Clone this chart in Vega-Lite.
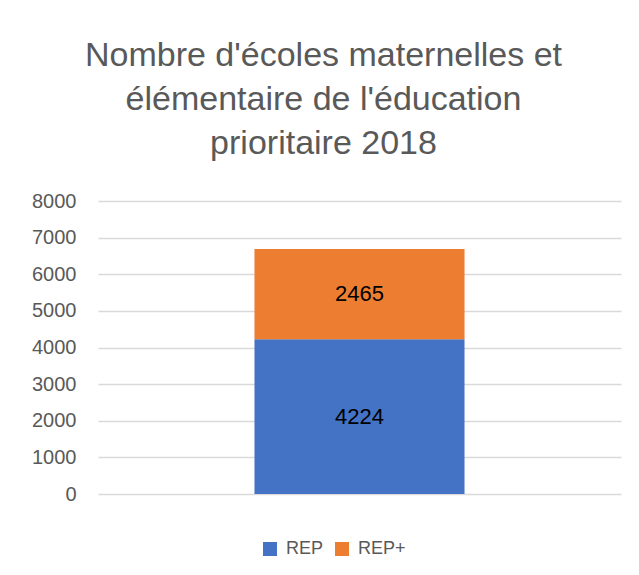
{
  "$schema": "https://vega.github.io/schema/vega-lite/v6.json",
  "autosize": {"type": "none"},
  "width": 523,
  "height": 293,
  "padding": {"left": 98, "top": 201, "right": 18, "bottom": 81},
  "background": "white",
  "config": {
    "view": {"stroke": null},
    "font": "Liberation Sans",
    "axisY": {"title": null, "domain": false, "ticks": false, "labelFontSize": 20, "labelColor": "#595959",
      "labelPadding": 22, "gridColor": "#d9d9d9", "gridWidth": 1.3, "labelOverlap": false, "labelFont": "Liberation Sans"}
  },
  "title": {
    "text": ["Nombre d'écoles maternelles et", "élémentaire de l'éducation", "prioritaire 2018"],
    "anchor": "middle",
    "frame": "group",
    "dx": -36,
    "fontSize": 34,
    "fontWeight": "normal",
    "color": "#595959",
    "lineHeight": 44,
    "offset": 30,
    "font": "Liberation Sans"
  },
  "data": {"values": [
    {"cat": "2018", "serie": "REP", "value": 4224},
    {"cat": "2018", "serie": "REP+", "value": 2465}
  ]},
  "transform": [
    {"stack": "value", "groupby": ["cat"], "sort": [{"field": "serie", "order": "ascending"}], "as": ["v0", "v1"]},
    {"calculate": "(datum.v0 + datum.v1) / 2", "as": "mid"}
  ],
  "encoding": {
    "x": {"field": "cat", "type": "nominal", "axis": null,
      "scale": {"paddingInner": 0, "paddingOuter": 0.745}},
    "y": {"field": "v0", "type": "quantitative",
      "scale": {"domain": [0, 8000]},
      "axis": {"values": [0,1000,2000,3000,4000,5000,6000,7000,8000], "format": "d"}}
  },
  "layer": [
    {
      "mark": {"type": "bar"},
      "encoding": {
        "y2": {"field": "v1"},
        "color": {"field": "serie", "type": "nominal",
          "scale": {"domain": ["REP", "REP+"], "range": ["#4472C4", "#ED7D31"]},
          "legend": {"title": null, "orient": "none", "direction": "horizontal", "legendX": 163, "legendY": 339,
            "symbolType": "square", "symbolSize": 196, "symbolStrokeWidth": 0, "labelFontSize": 18, "labelColor": "#595959",
            "columnPadding": 9, "labelOffset": 7}}
      }
    },
    {
      "mark": {"type": "text", "fontSize": 22, "color": "#000000", "baseline": "middle"},
      "encoding": {
        "y": {"field": "mid", "type": "quantitative"},
        "text": {"field": "value", "type": "quantitative", "format": "d"}
      }
    }
  ]
}
